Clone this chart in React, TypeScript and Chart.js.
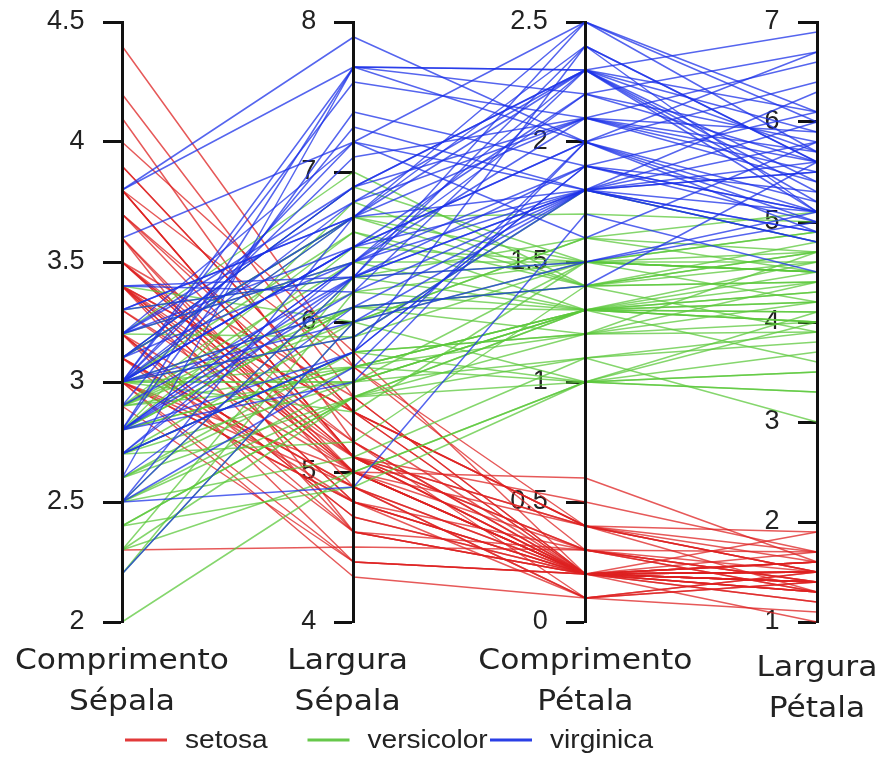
import { useEffect, useRef } from "react";
import { Chart, registerables } from "chart.js";

Chart.register(...registerables);

// Iris measurements per species: [sepal length, sepal width, petal length, petal width]
const setosa: number[][] = [
  [5.1, 3.5, 1.4, 0.2], [4.9, 3.0, 1.4, 0.2], [4.7, 3.2, 1.3, 0.2], [4.6, 3.1, 1.5, 0.2], [5.0, 3.6, 1.4, 0.2],
  [5.4, 3.9, 1.7, 0.4], [4.6, 3.4, 1.4, 0.3], [5.0, 3.4, 1.5, 0.2], [4.4, 2.9, 1.4, 0.2], [4.9, 3.1, 1.5, 0.1],
  [5.4, 3.7, 1.5, 0.2], [4.8, 3.4, 1.6, 0.2], [4.8, 3.0, 1.4, 0.1], [4.3, 3.0, 1.1, 0.1], [5.8, 4.0, 1.2, 0.2],
  [5.7, 4.4, 1.5, 0.4], [5.4, 3.9, 1.3, 0.4], [5.1, 3.5, 1.4, 0.3], [5.7, 3.8, 1.7, 0.3], [5.1, 3.8, 1.5, 0.3],
  [5.4, 3.4, 1.7, 0.2], [5.1, 3.7, 1.5, 0.4], [4.6, 3.6, 1.0, 0.2], [5.1, 3.3, 1.7, 0.5], [4.8, 3.4, 1.9, 0.2],
  [5.0, 3.0, 1.6, 0.2], [5.0, 3.4, 1.6, 0.4], [5.2, 3.5, 1.5, 0.2], [5.2, 3.4, 1.4, 0.2], [4.7, 3.2, 1.6, 0.2],
  [4.8, 3.1, 1.6, 0.2], [5.4, 3.4, 1.5, 0.4], [5.2, 4.1, 1.5, 0.1], [5.5, 4.2, 1.4, 0.2], [4.9, 3.1, 1.5, 0.2],
  [5.0, 3.2, 1.2, 0.2], [5.5, 3.5, 1.3, 0.2], [4.9, 3.6, 1.4, 0.1], [4.4, 3.0, 1.3, 0.2], [5.1, 3.4, 1.5, 0.2],
  [5.0, 3.5, 1.3, 0.3], [4.5, 2.3, 1.3, 0.3], [4.4, 3.2, 1.3, 0.2], [5.0, 3.5, 1.6, 0.6], [5.1, 3.8, 1.9, 0.4],
  [4.8, 3.0, 1.4, 0.3], [5.1, 3.8, 1.6, 0.2], [4.6, 3.2, 1.4, 0.2], [5.3, 3.7, 1.5, 0.2], [5.0, 3.3, 1.4, 0.2],
];

const versicolor: number[][] = [
  [7.0, 3.2, 4.7, 1.4], [6.4, 3.2, 4.5, 1.5], [6.9, 3.1, 4.9, 1.5], [5.5, 2.3, 4.0, 1.3], [6.5, 2.8, 4.6, 1.5],
  [5.7, 2.8, 4.5, 1.3], [6.3, 3.3, 4.7, 1.6], [4.9, 2.4, 3.3, 1.0], [6.6, 2.9, 4.6, 1.3], [5.2, 2.7, 3.9, 1.4],
  [5.0, 2.0, 3.5, 1.0], [5.9, 3.0, 4.2, 1.5], [6.0, 2.2, 4.0, 1.0], [6.1, 2.9, 4.7, 1.4], [5.6, 2.9, 3.6, 1.3],
  [6.7, 3.1, 4.4, 1.4], [5.6, 3.0, 4.5, 1.5], [5.8, 2.7, 4.1, 1.0], [6.2, 2.2, 4.5, 1.5], [5.6, 2.5, 3.9, 1.1],
  [5.9, 3.2, 4.8, 1.8], [6.1, 2.8, 4.0, 1.3], [6.3, 2.5, 4.9, 1.5], [6.1, 2.8, 4.7, 1.2], [6.4, 2.9, 4.3, 1.3],
  [6.6, 3.0, 4.4, 1.4], [6.8, 2.8, 4.8, 1.4], [6.7, 3.0, 5.0, 1.7], [6.0, 2.9, 4.5, 1.5], [5.7, 2.6, 3.5, 1.0],
  [5.5, 2.4, 3.8, 1.1], [5.5, 2.4, 3.7, 1.0], [5.8, 2.7, 3.9, 1.2], [6.0, 2.7, 5.1, 1.6], [5.4, 3.0, 4.5, 1.5],
  [6.0, 3.4, 4.5, 1.6], [6.7, 3.1, 4.7, 1.5], [6.3, 2.3, 4.4, 1.3], [5.6, 3.0, 4.1, 1.3], [5.5, 2.5, 4.0, 1.3],
  [5.5, 2.6, 4.4, 1.2], [6.1, 3.0, 4.6, 1.4], [5.8, 2.6, 4.0, 1.2], [5.0, 2.3, 3.3, 1.0], [5.6, 2.7, 4.2, 1.3],
  [5.7, 3.0, 4.2, 1.2], [5.7, 2.9, 4.2, 1.3], [6.2, 2.9, 4.3, 1.3], [5.1, 2.5, 3.0, 1.1], [5.7, 2.8, 4.1, 1.3],
];

const virginica: number[][] = [
  [6.3, 3.3, 6.0, 2.5], [5.8, 2.7, 5.1, 1.9], [7.1, 3.0, 5.9, 2.1], [6.3, 2.9, 5.6, 1.8], [6.5, 3.0, 5.8, 2.2],
  [7.6, 3.0, 6.6, 2.1], [4.9, 2.5, 4.5, 1.7], [7.3, 2.9, 6.3, 1.8], [6.7, 2.5, 5.8, 1.8], [7.2, 3.6, 6.1, 2.5],
  [6.5, 3.2, 5.1, 2.0], [6.4, 2.7, 5.3, 1.9], [6.8, 3.0, 5.5, 2.1], [5.7, 2.5, 5.0, 2.0], [5.8, 2.8, 5.1, 2.4],
  [6.4, 3.2, 5.3, 2.3], [6.5, 3.0, 5.5, 1.8], [7.7, 3.8, 6.7, 2.2], [7.7, 2.6, 6.9, 2.3], [6.0, 2.2, 5.0, 1.5],
  [6.9, 3.2, 5.7, 2.3], [5.6, 2.8, 4.9, 2.0], [7.7, 2.8, 6.7, 2.0], [6.3, 2.7, 4.9, 1.8], [6.7, 3.3, 5.7, 2.1],
  [7.2, 3.2, 6.0, 1.8], [6.2, 2.8, 4.8, 1.8], [6.1, 3.0, 4.9, 1.8], [6.4, 2.8, 5.6, 2.1], [7.2, 3.0, 5.8, 1.6],
  [7.4, 2.8, 6.1, 1.9], [7.9, 3.8, 6.4, 2.0], [6.4, 2.8, 5.6, 2.2], [6.3, 2.8, 5.1, 1.5], [6.1, 2.6, 5.6, 1.4],
  [7.7, 3.0, 6.1, 2.3], [6.3, 3.4, 5.6, 2.4], [6.4, 3.1, 5.5, 1.8], [6.0, 3.0, 4.8, 1.8], [6.9, 3.1, 5.4, 2.1],
  [6.7, 3.1, 5.6, 2.4], [6.9, 3.1, 5.1, 2.3], [5.8, 2.7, 5.1, 1.9], [6.8, 3.2, 5.9, 2.3], [6.7, 3.3, 5.7, 2.5],
  [6.7, 3.0, 5.2, 2.3], [6.3, 2.5, 5.0, 1.9], [6.5, 3.0, 5.2, 2.0], [6.2, 3.4, 5.4, 2.3], [5.9, 3.0, 5.1, 1.8],
];

const speciesNames = ["setosa", "versicolor", "virginica"];
const speciesRows = [setosa, versicolor, virginica];
const speciesColors = ["rgba(222, 34, 34, 0.75)", "rgba(92, 200, 60, 0.75)", "rgba(28, 50, 232, 0.75)"];
const legendColors = ["#e23a3a", "#66c84a", "#2a3fe6"];

// Parallel axes: title lines, data column shown, range and tick step
const axisTitles = [
  ["Comprimento", "Sépala"],
  ["Largura", "Sépala"],
  ["Comprimento", "Pétala"],
  ["Largura", "Pétala"],
];
const axisColumns = [1, 0, 3, 2];
const axisMin = [2, 4, 0, 1];
const axisMax = [4.5, 8, 2.5, 7];
const axisStep = [0.5, 1, 0.5, 1];

const tickFont = { family: "'Liberation Sans', Arial, sans-serif", size: 27 };
// Axes placed at an x value right-align their labels on the axis line itself,
// so trailing spaces keep the labels clear of the tick marks.
const labelGap = "\u0020\u0020\u0020\u0020\u0020";

const parallelLines = {
  id: "parallelLines",
  afterDatasetsDraw(chart: any) {
    const ctx = chart.ctx as CanvasRenderingContext2D;
    const xScale = chart.scales.x;
    ctx.save();
    ctx.lineWidth = 1.5;
    ctx.lineJoin = "round";
    speciesRows.forEach((rows, k) => {
      ctx.strokeStyle = chart.data.datasets[k].borderColor;
      rows.forEach((row) => {
        ctx.beginPath();
        axisColumns.forEach((col, i) => {
          const px = xScale.getPixelForValue(i);
          const py = chart.scales["y" + i].getPixelForValue(row[col]);
          if (i === 0) ctx.moveTo(px, py);
          else ctx.lineTo(px, py);
        });
        ctx.stroke();
      });
    });
    ctx.restore();
  },
};

const axisTitlePlugin = {
  id: "axisTitles",
  afterDraw(chart: any) {
    const ctx = chart.ctx as CanvasRenderingContext2D;
    const xScale = chart.scales.x;
    const base = chart.chartArea.bottom;
    ctx.save();
    ctx.font = "29px 'DejaVu Sans', sans-serif";
    ctx.fillStyle = "#222";
    ctx.textAlign = "center";
    ctx.textBaseline = "alphabetic";
    axisTitles.forEach((lines, i) => {
      const cx = xScale.getPixelForValue(i) - (i === 1 ? 6 : 0);
      const shift = i === axisTitles.length - 1 ? 7 : 0;
      lines.forEach((line, j) => {
        ctx.save();
        ctx.translate(cx, base + 47 + shift + j * 41);
        ctx.scale(1.08, 1);
        ctx.fillText(line, 0, 0);
        ctx.restore();
      });
    });
    ctx.restore();
  },
};

const legendPlugin = {
  id: "speciesLegend",
  afterDraw(chart: any) {
    const ctx = chart.ctx as CanvasRenderingContext2D;
    const startX = 125;
    const stepX = 182.5;
    const lineY = 740;
    ctx.save();
    ctx.font = "26px 'Liberation Sans', Arial, sans-serif";
    ctx.textBaseline = "alphabetic";
    ctx.textAlign = "left";
    chart.data.datasets.forEach((ds: any, k: number) => {
      const x0 = startX + k * stepX;
      ctx.strokeStyle = legendColors[k];
      ctx.lineWidth = 3;
      ctx.beginPath();
      ctx.moveTo(x0, lineY);
      ctx.lineTo(x0 + 42, lineY);
      ctx.stroke();
      ctx.save();
      ctx.translate(x0 + 60, lineY + 8);
      ctx.scale(1.08, 1);
      ctx.fillStyle = "#222";
      ctx.fillText(ds.label, 0, 0);
      ctx.restore();
    });
    ctx.restore();
  },
};

export default function App() {
  const canvasRef = useRef<HTMLCanvasElement | null>(null);

  useEffect(() => {
    if (!canvasRef.current) return;
    const scales: any = {
      x: { type: "linear", min: 0, max: 3, display: false },
    };
    axisColumns.forEach((_, i) => {
      scales["y" + i] = {
        type: "linear",
        axis: "y",
        position: { x: i },
        min: axisMin[i],
        max: axisMax[i],
        grid: {
          display: true,
          drawOnChartArea: false,
          drawTicks: true,
          tickLength: 18,
          tickColor: "#111",
          tickWidth: 3,
        },
        border: { display: true, color: "#111", width: 3, z: 1 },
        ticks: {
          stepSize: axisStep[i],
          font: tickFont,
          color: "#222",
          padding: 0,
          autoSkip: false,
          callback: (v: number) => String(v) + labelGap,
        },
      };
    });

    const chart = new Chart(canvasRef.current, {
      type: "line",
      data: {
        datasets: speciesNames.map((name, k) => ({
          label: name,
          data: [],
          xAxisID: "x",
          yAxisID: "y0",
          borderColor: speciesColors[k],
          backgroundColor: speciesColors[k],
        })),
      },
      options: {
        animation: false,
        responsive: false,
        layout: { padding: { left: 122, right: 60, top: 22, bottom: 135 } },
        scales,
        plugins: {
          legend: { display: false },
          tooltip: { enabled: false },
        },
      },
      plugins: [parallelLines, axisTitlePlugin, legendPlugin],
    });
    return () => chart.destroy();
  }, []);

  return (
    <div style={{ position: "absolute", left: 0, top: 0, width: 877, height: 757, background: "#fff" }}>
      <canvas ref={canvasRef} width={877} height={757} style={{ display: "block" }} />
    </div>
  );
}
